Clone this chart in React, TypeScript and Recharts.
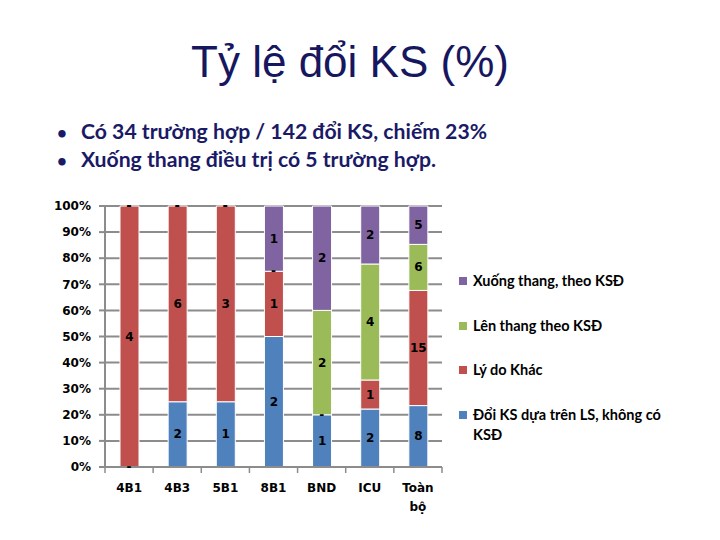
import { Bar, BarChart, CartesianGrid, LabelList, ReferenceDot, XAxis, YAxis } from "recharts";

const NAVY = "#17175f";
const BLUE = "#4f81bd";
const RED = "#c0504d";
const GREEN = "#9bbb59";
const PURPLE = "#8064a2";
const GRID = "#8c8c8c";

const khoa = ["4B1", "4B3", "5B1", "8B1", "BND", "ICU", "Toàn bộ"];
const doiKsLs = [0, 2, 1, 2, 1, 2, 8];
const lyDoKhac = [4, 6, 3, 1, 0, 1, 15];
const lenThang = [0, 0, 0, 0, 2, 4, 6];
const xuongThang = [0, 0, 0, 1, 2, 2, 5];
const yTicks = [0, 0.1, 0.2, 0.3, 0.4, 0.5, 0.6, 0.7, 0.8, 0.9, 1];

const series = [
  { key: "doiKsLs", name: "Đổi KS dựa trên LS, không có KSĐ", color: BLUE, values: doiKsLs },
  { key: "lyDoKhac", name: "Lý do Khác", color: RED, values: lyDoKhac },
  { key: "lenThang", name: "Lên thang theo KSĐ", color: GREEN, values: lenThang },
  { key: "xuongThang", name: "Xuống thang, theo KSĐ", color: PURPLE, values: xuongThang },
];

const data = khoa.map((k, i) => ({
  khoa: k,
  doiKsLs: doiKsLs[i],
  lyDoKhac: lyDoKhac[i],
  lenThang: lenThang[i],
  xuongThang: xuongThang[i],
}));

// zero counts are shown as "-" at the point where the empty segment sits in the stack
const zeroMarks: { khoa: string; y: number; id: string }[] = [];
khoa.forEach((k, i) => {
  const total = series.reduce((sum, s) => sum + s.values[i], 0);
  let below = 0;
  series.forEach((s) => {
    if (s.values[i] === 0) zeroMarks.push({ khoa: k, y: below / total, id: `${k}-${s.key}` });
    below += s.values[i];
  });
});

const PLOT_LEFT = 105;
const PLOT_RIGHT = 442;
const PLOT_TOP = 206;
const PLOT_BOTTOM = 467;
const BAND = (PLOT_RIGHT - PLOT_LEFT) / khoa.length;
const AXIS_FONT = "'DejaVu Sans', Verdana, sans-serif";
const TEXT_FONT = "Lato, 'Noto Sans', sans-serif";

function BarValue(props: any) {
  const { x, y, width, height, value } = props;
  if (!value) return null;
  return (
    <text
      x={x + width / 2}
      y={y + height / 2}
      dy={4}
      textAnchor="middle"
      fontFamily={AXIS_FONT}
      fontWeight="bold"
      fontSize={12}
      fill="#000"
    >
      {value}
    </text>
  );
}

function Dash(props: any) {
  const { cx, cy } = props;
  return (
    <text x={cx} y={cy} dy={4} textAnchor="middle" fontFamily={AXIS_FONT} fontWeight="bold" fontSize={12} fill="#000">
      -
    </text>
  );
}

function CategoryTick(props: any) {
  const { x, payload, index } = props;
  const lines = String(payload.value).split(" ");
  const left = x - BAND / 2;
  return (
    <g>
      <line x1={left} x2={left} y1={PLOT_BOTTOM} y2={PLOT_BOTTOM + 6} stroke={GRID} strokeWidth={1.5} />
      {index === khoa.length - 1 && (
        <line x1={x + BAND / 2} x2={x + BAND / 2} y1={PLOT_BOTTOM} y2={PLOT_BOTTOM + 6} stroke={GRID} strokeWidth={1.5} />
      )}
      <text
        x={x}
        y={PLOT_BOTTOM + 25}
        textAnchor="middle"
        fontFamily={AXIS_FONT}
        fontWeight="bold"
        fontSize={12}
        fill="#000"
      >
        {lines.map((l, i) => (
          <tspan key={i} x={x} dy={i === 0 ? 0 : 19}>
            {l}
          </tspan>
        ))}
      </text>
    </g>
  );
}

function LegendBox() {
  const items = [...series].reverse();
  return (
    <div style={{ fontFamily: TEXT_FONT, fontWeight: 700, fontSize: 14.5, color: "#000" }}>
      {items.map((s) => (
        <div key={s.key} style={{ display: "flex", alignItems: "flex-start", lineHeight: "20px", marginBottom: 24.5 }}>
          <span
            style={{
              display: "inline-block",
              width: 8,
              height: 8,
              background: s.color,
              marginTop: 6,
              marginRight: 6,
              flex: "none",
            }}
          />
          <span style={{ width: 190 }}>{s.name}</span>
        </div>
      ))}
    </div>
  );
}

export default function App() {
  return (
    <div style={{ position: "absolute", left: 0, top: 0, width: 720, height: 540, background: "#fff", overflow: "hidden" }}>
      <div
        style={{
          position: "absolute",
          left: 0,
          width: 700,
          top: 34,
          textAlign: "center",
          fontFamily: "'Liberation Sans', Arial, sans-serif",
          fontSize: 44,
          lineHeight: "56px",
          color: NAVY,
        }}
      >
        Tỷ lệ đổi KS (%)
      </div>
      <div
        style={{
          position: "absolute",
          left: 57,
          top: 118,
          fontFamily: TEXT_FONT,
          fontWeight: 700,
          fontSize: 21.2,
          lineHeight: "27px",
          color: "#1a1a66",
          whiteSpace: "nowrap",
        }}
      >
        <div><span style={{ display: "inline-block", width: 24, fontSize: 17 }}>•</span>Có 34 trường hợp / 142 đổi KS, chiếm 23%</div>
        <div><span style={{ display: "inline-block", width: 24, fontSize: 17 }}>•</span>Xuống thang điều trị có 5 trường hợp.</div>
      </div>
      <div style={{ position: "absolute", left: 0, top: 0 }}>
        <BarChart
          width={720}
          height={540}
          data={data}
          stackOffset="expand"
          barSize={19}
          margin={{ top: PLOT_TOP, right: 720 - PLOT_RIGHT, bottom: 33, left: PLOT_LEFT - 60 }}
        >
          <CartesianGrid vertical={false} stroke={GRID} strokeWidth={2} />
          <XAxis
            dataKey="khoa"
            stroke={GRID}
            strokeWidth={2}
            tickLine={false}
            interval={0}
            height={40}
            tick={<CategoryTick />}
          />
          <YAxis
            width={60}
            domain={[0, 1]}
            ticks={yTicks}
            interval={0}
            stroke={GRID}
            strokeWidth={2}
            tickSize={6}
            tickMargin={8}
            tickFormatter={(v: number) => `${Math.round(v * 100)}%`}
            tick={{ fontFamily: AXIS_FONT, fontWeight: "bold", fontSize: 12, fill: "#000" }}
          />
          {series.map((s) => (
            <Bar
              key={s.key}
              dataKey={s.key}
              name={s.name}
              stackId="a"
              fill={s.color}
              stroke="#fff"
              strokeWidth={1}
              isAnimationActive={false}
            >
              <LabelList dataKey={s.key} content={<BarValue />} />
            </Bar>
          ))}
          {zeroMarks.map((m) => (
            <ReferenceDot key={m.id} x={m.khoa} y={m.y} r={0} ifOverflow="visible" shape={<Dash />} />
          ))}
        </BarChart>
      </div>
      <div style={{ position: "absolute", left: 459, top: 271 }}>
        <LegendBox />
      </div>
    </div>
  );
}
